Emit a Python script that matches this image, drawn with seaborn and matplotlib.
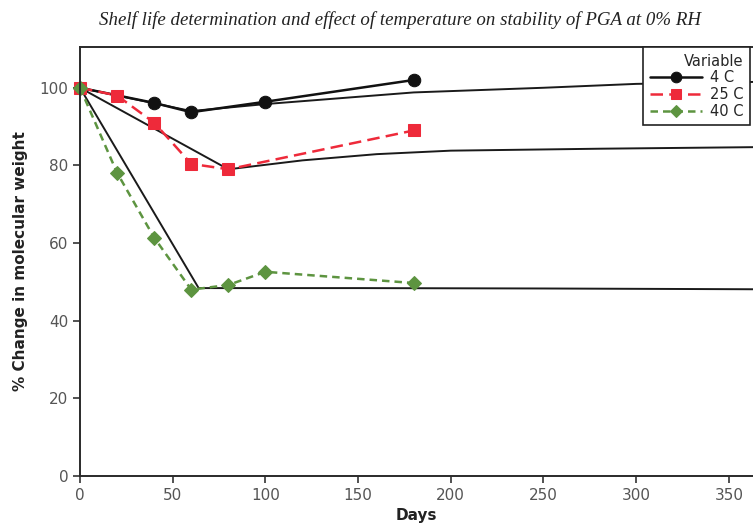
import pandas as pd
import matplotlib.pyplot as plt
import seaborn as sns

# measured data
days_4c = [0, 40, 60, 100, 180]
mw_4c = [100, 96.1, 93.7, 96.4, 102.0]
days_25c = [0, 20, 40, 60, 80, 180]
mw_25c = [100, 98.0, 91.0, 80.4, 79.0, 89.0]
days_40c = [0, 20, 40, 60, 80, 100, 180]
mw_40c = [100, 78.1, 61.4, 48.0, 49.2, 52.6, 49.7]

# drawn trend lines
fit_4c_x = [0, 60, 100, 180, 250, 300, 363]
fit_4c_y = [100, 94.0, 95.8, 98.8, 100.0, 101.0, 101.5]
fit_25c_x = [0, 80, 120, 160, 200, 280, 363]
fit_25c_y = [100, 79.0, 81.3, 82.9, 83.8, 84.3, 84.7]
fit_40c_x = [0, 64, 150, 250, 363]
fit_40c_y = [100, 48.4, 48.4, 48.3, 48.1]

series = [
    ("4 C", days_4c, mw_4c, "#111111", "o", "-", 9),
    ("25 C", days_25c, mw_25c, "#ee2a3a", "s", (5, 2.5), 8),
    ("40 C", days_40c, mw_40c, "#5d9440", "D", (3, 2), 7.5),
]

if __name__ == "__main__":
    sns.set_style("ticks")
    plt.rcParams["font.family"] = ["DejaVu Sans"]

    fig = plt.figure(figsize=(7.53, 5.31), dpi=100)
    ax = fig.add_axes([80 / 753, 55 / 531, 673 / 753, 429 / 531])

    for fx, fy in [(fit_4c_x, fit_4c_y), (fit_25c_x, fit_25c_y), (fit_40c_x, fit_40c_y)]:
        sns.lineplot(x=fx, y=fy, ax=ax, color="#1a1a1a", lw=1.4, sort=False, legend=False)

    for name, xs, ys, col, mk, ls, ms in series:
        df = pd.DataFrame({"Days": xs, "MW": ys})
        sns.lineplot(data=df, x="Days", y="MW", ax=ax, color=col, marker=mk, markersize=ms,
                     markeredgecolor=col, lw=1.8, label=name)
        ln = ax.lines[-1]
        if ls != "-":
            ln.set_dashes(ls)
        ln.set_clip_on(False)

    ax.set_xlim(0, 363)
    ax.set_ylim(0, 110.5)
    ax.set_xticks(range(0, 351, 50))
    ax.set_yticks(range(0, 101, 20))
    ax.tick_params(axis="both", labelsize=11, labelcolor="#555555", color="#333333",
                   length=5, width=1.2, direction="out")
    for s in ["left", "bottom", "top"]:
        ax.spines[s].set_visible(True)
        ax.spines[s].set_color("#2a2a2a")
        ax.spines[s].set_linewidth(1.4)
    ax.spines["right"].set_visible(False)

    ax.set_xlabel("Days", fontsize=11, fontweight="bold", color="#222222", labelpad=4)
    ax.set_ylabel("% Change in molecular weight", fontsize=11, fontweight="bold",
                  color="#222222", labelpad=8)

    leg = ax.legend(title="Variable", loc="upper right", bbox_to_anchor=(0.995, 1.0),
                    fontsize=10.5, title_fontsize=10.5, frameon=True, fancybox=False,
                    edgecolor="#222222", borderpad=0.45, handlelength=3.6, labelspacing=0.12,
                    handletextpad=0.5, borderaxespad=0, markerscale=0.85)
    leg.get_frame().set_linewidth(1.2)
    leg.get_frame().set_alpha(1)
    leg._legend_box.align = "right"

    fig.text(0.531, 0.962, "Shelf life determination and effect of temperature on stability of PGA at 0% RH",
             ha="center", va="center", fontsize=13.6, style="italic",
             family=["Liberation Serif", "DejaVu Serif"], color="#222222")

    fig.savefig("out.png", dpi=100, facecolor="white")
